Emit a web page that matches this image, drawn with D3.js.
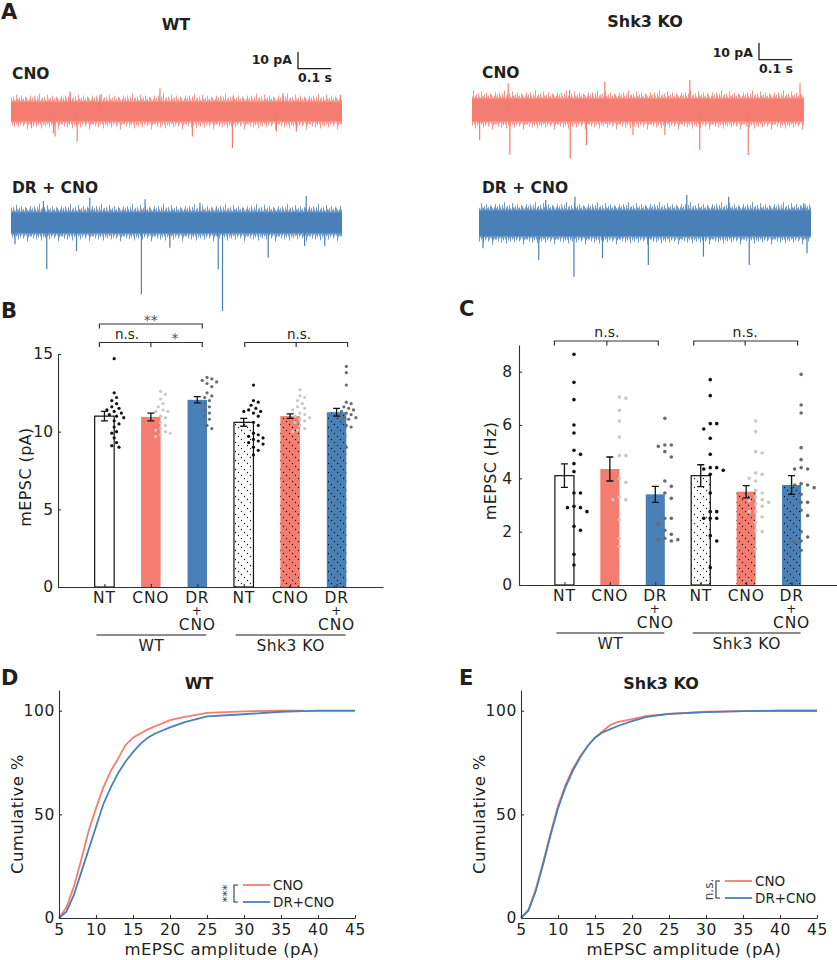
<!DOCTYPE html>
<html>
<head>
<meta charset="utf-8">
<script src="https://cdn.jsdelivr.net/npm/d3@7"></script>
<style>
  body { margin: 0; background: #fff; }
  svg { font-family: "DejaVu Sans", sans-serif; }
</style>
</head>
<body>
<div id="fig"></div>
<script>
// ---------- data ----------
const conditions = ["NT", "CNO", "DR + CNO", "NT", "CNO", "DR + CNO"];
const genotypes = ["WT", "Shk3 KO"];

// panel A: spike events in each trace, [time (s), amplitude (pA)]
const wtCnoEvents = [[0.062,-10],[0.128,-13],[0.133,-15],[0.200,-18],[0.548,-15],[0.669,-22],[0.802,-12],[0.862,-12],
  [0.178,12],[0.269,10],[0.450,14],[0.671,9],[0.822,11],[0.995,10]];
const wtDrEvents = [[0.012,-13],[0.108,-28],[0.198,-17],[0.394,-43],[0.480,-15],[0.626,-28],[0.639,-53],[0.777,-21],[0.887,-14],[0.948,-14],
  [0.098,13],[0.238,15],[0.405,14],[0.571,12],[0.892,16]];
const koCnoEvents = [[0.023,-18],[0.114,-27],[0.296,-29],[0.345,-21],[0.485,-15],[0.581,-15],[0.686,-24],[0.832,-27],
  [0.109,16],[0.294,12],[0.400,17],[0.656,18],[0.988,16]];
const koDrEvents = [[0.012,-15],[0.180,-22],[0.286,-32],[0.372,-21],[0.510,-25],[0.676,-20],[0.814,-25],[0.988,-18],
  [0.201,14],[0.289,16],[0.626,17],[0.752,16],[0.978,12]];
const noiseCore = [6.5, 7, 7.5, 8.5];   // pA half-width of the dense noise band

// panel B: mEPSC amplitude (pA)
const ampMeans = [11.0, 10.95, 12.05, 10.6, 11.0, 11.25];
const ampSem = [0.3, 0.25, 0.2, 0.25, 0.15, 0.25];
const ampWtNt = [14.7,12.5,12.2,12.0,11.8,11.6,11.5,11.4,11.3,11.2,11.1,11.0,10.9,10.7,10.5,10.3,10.0,9.9,9.6,9.3,9.1,9.0];
const ampWtCno = [12.6,12.4,12.1,11.8,11.6,11.4,11.3,11.3,11.0,10.9,10.6,10.4,10.2,10.1,10.0,9.9,9.8,9.7];
const ampWtDr = [13.5,13.4,13.3,13.2,13.1,12.9,12.5,12.3,12.2,12.0,11.8,11.6,11.4,11.2,11.0,10.8,10.4,10.2];
const ampKoNt = [13.0,12.0,11.9,11.7,11.5,11.4,11.3,11.3,11.2,11.0,10.6,10.4,9.9,9.8,9.7,9.6,9.5,9.4,9.3,9.2,9.0,8.8,8.5];
const ampKoCno = [12.7,12.3,12.2,12.0,11.8,11.6,11.5,11.4,11.2,11.1,11.0,10.9,10.8,10.7,10.6,10.4,10.2,10.1,10.0];
const ampKoDr = [14.2,13.8,13.0,11.9,11.8,11.6,11.5,11.4,11.3,11.2,11.1,11.0,10.9,10.9,10.8,10.6,10.4,10.3,9.0];
const ampTicks = [0, 5, 10, 15];

// panel C: mEPSC frequency (Hz)
const freqMeans = [4.1, 4.35, 3.4, 4.1, 3.5, 3.75];
const freqSem = [0.44, 0.45, 0.3, 0.41, 0.23, 0.35];
const freqWtNt = [8.65,7.6,6.95,6.0,5.7,5.05,4.9,4.55,4.25,3.45,3.45,2.95,2.9,2.9,2.75,2.2,2.05,1.15,0.75];
const freqWtCno = [7.05,7.0,6.55,6.15,5.55,4.85,4.85,4.0,3.85,3.3,3.2,3.2,2.45,1.75,1.45];
const freqWtDr = [6.25,5.25,5.25,5.2,5.0,4.8,3.9,3.7,3.45,3.25,2.5,2.5,2.3,2.05,1.9,1.75,1.7,1.7,1.65];
const freqKoNt = [7.7,7.1,6.05,6.05,5.85,5.5,4.9,4.4,4.4,4.35,4.3,4.15,3.45,2.75,2.75,2.5,2.5,2.5,1.85,1.65,0.65];
const freqKoCno = [6.15,5.75,5.0,4.95,4.2,4.15,4.0,3.9,3.55,3.45,3.3,3.2,3.15,3.1,3.05,2.95,2.75,2.75,2.55,2.35,2.05,2.0,1.35];
const freqKoDr = [7.9,6.75,6.45,5.15,4.7,4.4,4.35,4.35,3.8,3.75,3.75,3.65,3.4,3.1,3.1,2.8,2.6,2.0,1.8,1.65,1.6,1.3];
const freqTicks = [0, 2, 4, 6, 8];

// panels D, E: cumulative distributions
const cdfAmp = [5,6,7,8,9,10,11,12,13,14,15,16,17,18,20,22,25,30,35,38,40,45];
const wtCnoCdf = [0,5,15,28,42,53,63,71,77,83.5,87,89,91,92.5,95.5,97,99,99.7,100,100];
const wtDrCdf = [0,3,11,22,33,44,55,63,70,75.5,80,84,87,89,92,94.5,97.3,98.3,99.5,99.8,100,100];
const koCnoCdf = [0,4,14,27,41,54,64,72,78,83,87,90,93,94.5,96,97.5,98.5,99.5,99.8,99.9,100,100];
const koDrCdf = [0,3.5,13,26,40,53,63,71,77.5,83,87,89.5,91,92.5,95,97,98.5,99.3,99.8,99.9,100,100];
const cdfXTicks = [5,10,15,20,25,30,35,40,45];
const cdfYTicks = [0, 50, 100];

// ---------- style ----------
const RED = "#f47c70", BLUE = "#4a80b8";
const BAR_FILL = ["#ffffff", RED, BLUE, "#ffffff", RED, BLUE];
const DOT_FILL = ["#111111", "#c9c9c9", "#6b6b6b", "#111111", "#c9c9c9", "#6b6b6b"];
const INK = "#231f20", AXIS = "#333";
// edge roughness of the noise band (px beyond the dense core), a texture only
const FUZZ_UP = [1,3,0,5,2,0,4,1,7,0,2,3,0,4,1,0,6,2,1,3,0,5,1,2,0,4,3,1,0,2,5];
const FUZZ_DN = [2,0,4,1,0,5,1,3,0,2,6,0,3,1,4,0,2,1,5,0,3,1,0,4,2,0,1,7,3,1,2];

const svg = d3.select("#fig").append("svg").attr("width", 837).attr("height", 960);
const defs = svg.append("defs");

// dotted diagonal hatch for the Shk3 KO bars
const hatch = defs.append("pattern").attr("id", "hatch")
  .attr("patternUnits", "userSpaceOnUse").attr("width", 9).attr("height", 9);
[1.5, 4.5, 7.5].forEach(p => hatch.append("circle").attr("cx", p).attr("cy", p).attr("r", 0.65).attr("fill", "#111"));

function panelLetter(t, x, y) {
  svg.append("text").attr("x", x).attr("y", y).attr("font-size", 21).attr("font-weight", "bold")
    .attr("fill", INK).text(t);
}
function boldText(t, x, y, size, anchor) {
  svg.append("text").attr("x", x).attr("y", y).attr("font-size", size).attr("font-weight", "bold")
    .attr("text-anchor", anchor || "start").attr("fill", INK).text(t);
}

// ---------- panel A ----------
panelLetter("A", 1, 19);

function drawTrace(id, x0, x1, cy, color, core, events) {
  const x = d3.scaleLinear().domain([0, 1]).range([x0, x1]);
  const y = d3.scaleLinear().domain([-30, 30]).range([cy + 50, cy - 50]); // 1.67 px per pA
  const cpx = y(0) - y(core);
  const pat = defs.append("pattern").attr("id", id).attr("patternUnits", "userSpaceOnUse")
    .attr("width", FUZZ_UP.length).attr("height", 80)
    .attr("patternTransform", `translate(0,${cy - 40})`);
  FUZZ_UP.forEach((t, i) => pat.append("line").attr("x1", i + 0.5).attr("x2", i + 0.5)
    .attr("y1", 40 - cpx - t).attr("y2", 40 + cpx + FUZZ_DN[i])
    .attr("stroke", color).attr("stroke-width", 1).attr("stroke-opacity", 0.8));
  const g = svg.append("g");
  g.append("rect").attr("x", x0).attr("width", x1 - x0).attr("y", cy - cpx - 8).attr("height", 2 * cpx + 16)
    .attr("fill", `url(#${id})`);
  g.append("rect").attr("x", x0).attr("width", x1 - x0)
    .attr("y", cy - cpx + 1.5).attr("height", 2 * cpx - 3).attr("fill", color);
  g.selectAll(".spk").data(events).enter().append("line")
    .attr("x1", d => x(d[0])).attr("x2", d => x(d[0]))
    .attr("y1", cy).attr("y2", d => y(d[1]))
    .attr("stroke", color).attr("stroke-width", 1.2);
}

function scaleBar(x, yTop, labY, labS) {
  const g = svg.append("g");
  g.append("path").attr("d", `M${x},${yTop}V${yTop + 16.7}H${x + 33.2}`)
    .attr("fill", "none").attr("stroke", INK).attr("stroke-width", 1.3);
  g.append("text").attr("x", x - 6).attr("y", labY).attr("text-anchor", "end")
    .attr("font-size", 12.5).attr("font-weight", "bold").attr("fill", INK).text("10 pA");
  g.append("text").attr("x", x + 17).attr("y", labS).attr("text-anchor", "middle")
    .attr("font-size", 12.5).attr("font-weight", "bold").attr("fill", INK).text("0.1 s");
}

boldText(genotypes[0], 176, 30, 16, "middle");
boldText(genotypes[1], 645, 27, 16, "middle");
boldText(conditions[1], 12, 79, 15.5);
boldText(conditions[2], 12, 193, 15.5);
boldText(conditions[1], 482, 78, 15.5);
boldText(conditions[2], 482, 193, 15.5);
scaleBar(298, 52, 64, 82);
scaleBar(759, 43, 57, 73);
drawTrace("nz1", 11, 342, 111.5, RED, noiseCore[0], wtCnoEvents);
drawTrace("nz2", 11, 342, 222.7, BLUE, noiseCore[1], wtDrEvents);
drawTrace("nz3", 472, 804, 110, RED, noiseCore[2], koCnoEvents);
drawTrace("nz4", 479, 811, 223.3, BLUE, noiseCore[3], koDrEvents);

// ---------- panels B, C ----------
function swarm(vals, y, minD) {
  const placed = [];
  vals.map(v => ({ v, y: y(v) })).sort((a, b) => a.y - b.y).forEach(p => {
    for (let k = 0; k < 60; k++) {
      const c = k === 0 ? 0 : (k % 2 ? 1 : -1) * Math.ceil(k / 2) * minD / 2;
      if (placed.every(q => Math.hypot(q.dx - c, q.y - p.y) >= minD)) { p.dx = c; break; }
    }
    placed.push(p);
  });
  return placed;
}

function barPanel(o) {
  const x = d3.scaleLinear().domain([0, 7]).range([o.x0, o.x1]);
  const y = d3.scaleLinear().domain([0, o.max]).range([o.y0, o.yTop]);
  const bw = (x(1) - x(0)) * 0.42;
  const g = svg.append("g");

  g.selectAll(".bar").data(o.means).enter().append("rect")
    .attr("x", (d, i) => x(i + 1) - bw / 2).attr("width", bw)
    .attr("y", d => y(d)).attr("height", d => y(0) - y(d))
    .attr("fill", (d, i) => BAR_FILL[i])
    .attr("stroke", (d, i) => (i % 3 === 0 ? "#111" : "none")).attr("stroke-width", 1.2);
  g.selectAll(".hat").data(o.means.slice(3)).enter().append("rect")
    .attr("x", (d, i) => x(i + 4) - bw / 2).attr("width", bw)
    .attr("y", d => y(d)).attr("height", d => y(0) - y(d)).attr("fill", "url(#hatch)");

  o.points.forEach((vals, i) => {
    const cx = x(i + 1) + bw / 2;
    g.selectAll(null).data(swarm(vals, y, o.minD)).enter().append("circle")
      .attr("cx", d => cx + d.dx).attr("cy", d => d.y).attr("r", o.r).attr("fill", DOT_FILL[i]);
  });

  // error bars
  o.means.forEach((m, i) => {
    const cx = x(i + 1), lo = y(m - o.sem[i]), hi = y(m + o.sem[i]);
    g.append("path").attr("d", `M${cx - 3.5},${hi}H${cx + 3.5}M${cx},${hi}V${lo}M${cx - 3.5},${lo}H${cx + 3.5}`)
      .attr("fill", "none").attr("stroke", "#111").attr("stroke-width", 1.3);
  });

  const ya = g.append("g").attr("transform", `translate(${o.x0},0)`)
    .call(d3.axisLeft(y).tickValues(o.ticks).tickSize(-3).tickSizeOuter(0).tickPadding(o.pad));
  const xa = g.append("g").attr("transform", `translate(0,${o.y0})`)
    .call(d3.axisBottom(x).tickValues([1, 2, 3, 4, 5, 6]).tickSize(-3).tickSizeOuter(0).tickFormat(""));
  [ya, xa].forEach(a => {
    a.selectAll("path,line").attr("stroke", AXIS).attr("stroke-width", 1.1);
    a.selectAll("text").attr("font-size", 15.5).attr("fill", INK).attr("font-family", "DejaVu Sans");
  });

  // category labels
  conditions.forEach((c, i) => {
    const t = g.append("text").attr("text-anchor", "middle").attr("font-size", 15.5)
      .attr("letter-spacing", "0.8px").attr("fill", INK);
    if (c === "DR + CNO") {
      t.append("tspan").attr("x", x(i + 1)).attr("y", o.y0 + 16).text("DR");
      t.append("tspan").attr("x", x(i + 1)).attr("y", o.y0 + 28).attr("font-size", 12).text("+");
      t.append("tspan").attr("x", x(i + 1)).attr("y", o.y0 + 43).text("CNO");
    } else {
      t.attr("x", x(i + 1)).attr("y", o.y0 + 16).text(c);
    }
  });
  genotypes.forEach((gname, k) => {
    const a = x(1 + 3 * k) - 8, b = x(3 + 3 * k) + 9;
    g.append("line").attr("x1", a).attr("x2", b).attr("y1", o.y0 + 48).attr("y2", o.y0 + 48)
      .attr("stroke", "#666").attr("stroke-width", 1.3);
    g.append("text").attr("x", (a + b) / 2).attr("y", o.y0 + 64).attr("text-anchor", "middle")
      .attr("font-size", 15.5).attr("letter-spacing", "0.5px").attr("fill", INK).text(gname);
  });

  // y label
  g.append("text").attr("transform", `translate(${o.labX},${o.labY}) rotate(-90)`)
    .attr("text-anchor", "middle").attr("font-size", 16).attr("letter-spacing", "0.4px")
    .attr("fill", INK).text(o.label);

  return x;
}

function bracket(x1, x2, xm, yb, color) {
  let d = `M${x1},${yb + 4.5}V${yb}H${x2}V${yb + 4.5}`;
  if (xm !== null) d += `M${xm},${yb}V${yb + 4.5}`;
  svg.append("path").attr("d", d).attr("fill", "none").attr("stroke", color).attr("stroke-width", 1.2);
}
function sigText(t, x, y, color, size) {
  svg.append("text").attr("x", x).attr("y", y).attr("text-anchor", "middle")
    .attr("font-size", size).attr("fill", color).text(t);
}

// B
panelLetter("B", 1, 318);
const xB = barPanel({
  x0: 58, x1: 383, y0: 587, yTop: 354, max: 15, ticks: ampTicks, pad: 5,
  means: ampMeans, sem: ampSem, r: 1.6, minD: 4.8,
  points: [ampWtNt, ampWtCno, ampWtDr, ampKoNt, ampKoCno, ampKoDr],
  label: "mEPSC (pA)", labX: 31, labY: 477
});
bracket(xB(1) - 5, xB(3) + 5, null, 324, "#333");
sigText("**", (xB(1) + xB(3)) / 2, 325, "#555", 14);
bracket(xB(1) - 5, xB(3) + 5, xB(2), 342.5, "#333");
sigText("n.s.", 127, 339, INK, 13.5);
sigText("*", 175, 343, "#555", 14);
bracket(xB(4) + 1, xB(6) + 11, (xB(4) + xB(6)) / 2 + 6, 342.5, "#333");
sigText("n.s.", 299, 339, INK, 13.5);

// C
panelLetter("C", 459, 316);
const xC = barPanel({
  x0: 519, x1: 837, y0: 585, yTop: 345, max: 9, ticks: freqTicks, pad: 7,
  means: freqMeans, sem: freqSem, r: 1.8, minD: 6.5,
  points: [freqWtNt, freqWtCno, freqWtDr, freqKoNt, freqKoCno, freqKoDr],
  label: "mEPSC (Hz)", labX: 496, labY: 471
});
bracket(xC(1) - 10, xC(3) + 3, xC(2) - 3, 341, "#333");
sigText("n.s.", xC(2) - 3, 337, INK, 14);
bracket(xC(4) - 7, xC(6) + 6, xC(5) - 1, 341, "#333");
sigText("n.s.", xC(5) - 1, 337, INK, 14);

// ---------- panels D, E ----------
function cdfPanel(o) {
  const x = d3.scaleLinear().domain([5, 45]).range([o.x0, o.x1]);
  const y = d3.scaleLinear().domain([0, 110]).range([918, 690]);
  const g = svg.append("g");
  const line = d3.line().x(d => x(d[0])).y(d => y(d[1]));
  g.append("path").datum(d3.zip(cdfAmp, o.red)).attr("d", line)
    .attr("fill", "none").attr("stroke", RED).attr("stroke-width", 1.8);
  g.append("path").datum(d3.zip(cdfAmp, o.blue)).attr("d", line)
    .attr("fill", "none").attr("stroke", BLUE).attr("stroke-width", 1.8);

  const ya = g.append("g").attr("transform", `translate(${o.x0},0)`)
    .call(d3.axisLeft(y).tickValues(cdfYTicks).tickSize(-3).tickSizeOuter(0).tickPadding(4));
  const xa = g.append("g").attr("transform", `translate(0,918)`)
    .call(d3.axisBottom(x).tickValues(cdfXTicks).tickSize(-3).tickSizeOuter(0).tickPadding(6));
  [ya, xa].forEach(a => {
    a.selectAll("path,line").attr("stroke", AXIS).attr("stroke-width", 1.1);
    a.selectAll("text").attr("font-size", 15.5).attr("fill", INK).attr("font-family", "DejaVu Sans")
      .attr("letter-spacing", "0.6px");
  });

  g.append("text").attr("transform", `translate(${o.x0 - 36},814) rotate(-90)`)
    .attr("text-anchor", "middle").attr("font-size", 16.5).attr("letter-spacing", "0.4px")
    .attr("fill", INK).text("Cumulative %");
  g.append("text").attr("x", (o.x0 + o.x1) / 2 + 15).attr("y", 955).attr("text-anchor", "middle")
    .attr("font-size", 16.5).attr("letter-spacing", "0.4px").attr("fill", INK).text("mEPSC amplitude (pA)");
  boldText(o.title, (o.x0 + o.x1) / 2 - 8, 689, 16, "middle");

  // legend
  const lx = o.legX;
  [["CNO", RED, 0], ["DR+CNO", BLUE, 17]].forEach(([t, c, dy]) => {
    g.append("line").attr("x1", lx).attr("x2", lx + 27).attr("y1", o.legY + dy).attr("y2", o.legY + dy)
      .attr("stroke", c).attr("stroke-width", 1.8);
    g.append("text").attr("x", lx + 30).attr("y", o.legY + dy + 5).attr("font-size", 13.5)
      .attr("fill", INK).text(t);
  });
  g.append("path").attr("d", `M${lx - 5},${o.legY}H${lx - 9}V${o.legY + 17}H${lx - 5}`)
    .attr("fill", "none").attr("stroke", "#333").attr("stroke-width", 1.1);
  g.append("text").attr("transform", `translate(${lx - 12},${o.legY + 8.5}) rotate(-90)`)
    .attr("text-anchor", "middle").attr("font-size", 12).attr("fill", "#444").text(o.sig);
}

panelLetter("D", 1, 685);
cdfPanel({ x0: 59, x1: 355, red: wtCnoCdf, blue: wtDrCdf, title: genotypes[0], legX: 243, legY: 885, sig: "***" });
panelLetter("E", 459, 685);
cdfPanel({ x0: 521, x1: 817, red: koCnoCdf, blue: koDrCdf, title: genotypes[1], legX: 725, legY: 881, sig: "n.s." });
</script>
</body>
</html>
